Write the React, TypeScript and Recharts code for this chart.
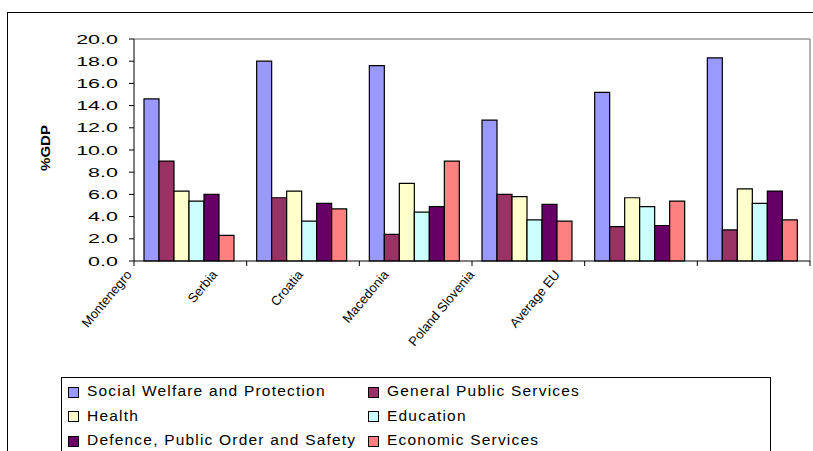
import { BarChart, Bar, XAxis, YAxis, CartesianGrid } from 'recharts';

const categories = ['Montenegro', 'Serbia', 'Croatia', 'Macedonia', 'Poland  Slovenia', 'Average EU'];
const socialWelfare = [14.6, 18.0, 17.6, 12.7, 15.2, 18.3];
const generalPublic = [9.0, 5.7, 2.4, 6.0, 3.1, 2.8];
const health = [6.3, 6.3, 7.0, 5.8, 5.7, 6.5];
const education = [5.4, 3.6, 4.4, 3.7, 4.9, 5.2];
const defence = [6.0, 5.2, 4.9, 5.1, 3.2, 6.3];
const economic = [2.3, 4.7, 9.0, 3.6, 5.4, 3.7];
const yTicks = [0, 2, 4, 6, 8, 10, 12, 14, 16, 18, 20];

const seriesNames = [
  'Social Welfare and Protection',
  'General Public Services',
  'Health',
  'Education',
  'Defence, Public Order and Safety',
  'Economic Services',
];
const seriesValues = [socialWelfare, generalPublic, health, education, defence, economic];
const seriesColors = ['#9999FF', '#993366', '#FFFFCC', '#CCFFFF', '#660066', '#FF8080'];

const data = categories.map((name, i) => {
  const row: Record<string, string | number> = { name };
  seriesValues.forEach((vals, s) => {
    row[`s${s}`] = vals[i];
  });
  return row;
});

const font = 'Arial, "Liberation Sans", sans-serif';

function ValueTick({ x, y, payload }: any) {
  return (
    <g transform={`translate(${x},${y})`}>
      <text textAnchor="end" dy="0.36em" fontSize={12.5} fontFamily={font} fill="#000" transform="scale(1.72,1)">
        {Number(payload.value).toFixed(1)}
      </text>
    </g>
  );
}

function CategoryTick({ x, y, payload, index }: any) {
  const half = payload.offset || 56;
  const lx = x - 58 - index * 27;
  const ly = y + 14;
  return (
    <g>
      <line x1={x - half} y1={y} x2={x - half} y2={y + 5} stroke="#000" />
      {index === categories.length - 1 && <line x1={x + half} y1={y} x2={x + half} y2={y + 5} stroke="#000" />}
      <text x={lx} y={ly} transform={`rotate(-50, ${lx}, ${ly})`} textAnchor="end" fontSize={13} fontFamily={font} fill="#000">
        {payload.value}
      </text>
    </g>
  );
}

function AxisTitle({ viewBox }: any) {
  const cx = viewBox.x + 45;
  const cy = viewBox.y + viewBox.height / 2 - 2;
  return (
    <text x={cx} y={cy} transform={`rotate(-90, ${cx}, ${cy})`} textAnchor="middle" dy="0.36em" fontSize={12.5} fontWeight="bold" fontFamily={font} fill="#000" textLength={46} lengthAdjust="spacingAndGlyphs">
      %GDP
    </text>
  );
}

export default function App() {
  return (
    <div style={{ position: 'absolute', left: 0, top: 0, width: 813, height: 451, overflow: 'hidden', background: '#fff', fontFamily: font }}>
      <div style={{ position: 'absolute', left: 7, top: 12, width: 900, height: 600, border: '1px solid #000' }} />
      <div style={{ position: 'absolute', left: 0, top: 0 }}>
        <BarChart width={813} height={451} data={data} margin={{ top: 39, right: 3, left: 0, bottom: 0 }} barCategoryGap={10} barGap={0}>
          <CartesianGrid
            stroke="#999"
            strokeWidth={1.5}
            horizontalCoordinatesGenerator={({ offset }: any) => [offset.top]}
            verticalCoordinatesGenerator={({ offset }: any) => [offset.left + offset.width]}
          />
          <XAxis dataKey="name" height={190} axisLine={{ stroke: '#000' }} tickLine={false} tickSize={0} tickMargin={0} interval={0} tick={<CategoryTick />} />
          <YAxis
            width={134}
            domain={[0, 20]}
            ticks={yTicks}
            interval={0}
            axisLine={{ stroke: '#000' }}
            tickLine={{ stroke: '#000' }}
            tickSize={5}
            tickMargin={11}
            tick={<ValueTick />}
            label={<AxisTitle />}
          />
          {seriesNames.map((n, s) => (
            <Bar key={n} dataKey={`s${s}`} name={n} fill={seriesColors[s]} stroke="#000" strokeWidth={1.2} isAnimationActive={false} />
          ))}
        </BarChart>
      </div>
      <div
        style={{
          position: 'absolute',
          left: 61,
          top: 377,
          width: 710,
          height: 100,
          border: '1px solid #000',
          boxSizing: 'border-box',
          display: 'grid',
          gridTemplateColumns: '300px 400px',
          gridAutoRows: '24.5px',
          paddingLeft: 6,
          paddingTop: 1,
          fontSize: 15.5,
          letterSpacing: 1.2,
          color: '#000',
        }}
      >
        {seriesNames.map((n, s) => (
          <div key={n} style={{ display: 'flex', alignItems: 'center', whiteSpace: 'nowrap' }}>
            <span style={{ display: 'inline-block', width: 9, height: 9, background: seriesColors[s], border: '1px solid #000', marginRight: 8, marginTop: 2 }} />
            <span>{n}</span>
          </div>
        ))}
      </div>
    </div>
  );
}
